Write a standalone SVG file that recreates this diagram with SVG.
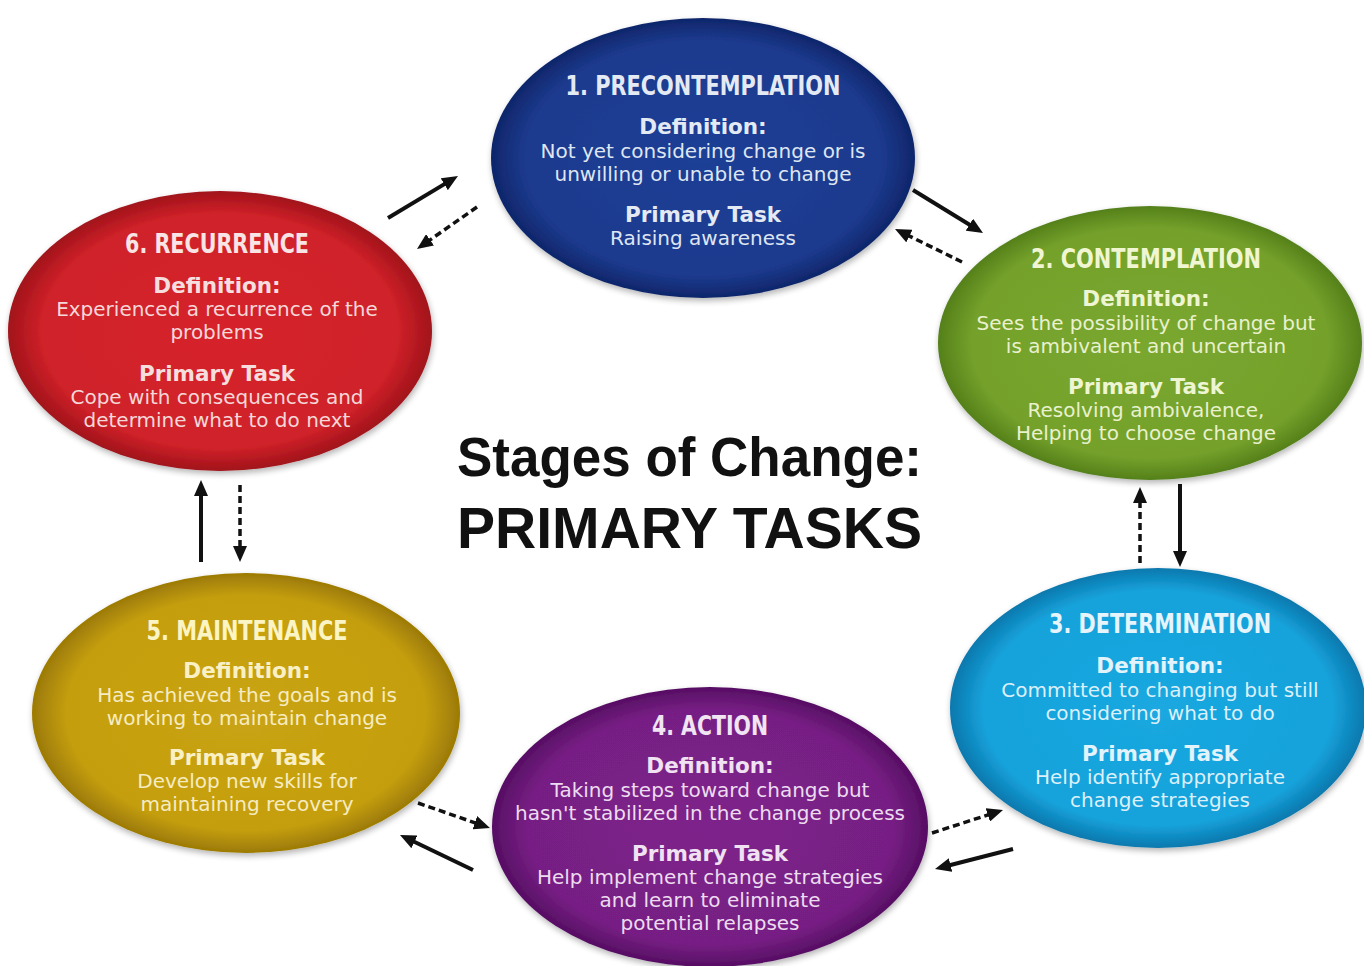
<svg xmlns="http://www.w3.org/2000/svg" width="1364" height="966" viewBox="0 0 1364 966">
  <style>
    .hd { font-family: "Liberation Sans Narrow", "DejaVu Sans Condensed", "Liberation Sans", sans-serif; font-weight: bold; font-size: 26px; text-anchor: middle; }
    .lb { font-family: "DejaVu Sans", Verdana, sans-serif; font-weight: bold; font-size: 21.5px; text-anchor: middle; }
    .tx { font-family: "DejaVu Sans", Verdana, sans-serif; font-size: 20px; text-anchor: middle; }
    .ttl { font-family: "Liberation Sans", Arial, sans-serif; font-weight: bold; fill: #111; }
    .sol { stroke: #111; stroke-width: 4; fill: none; marker-end: url(#head); }
    .dsh { stroke: #111; stroke-width: 3.5; fill: none; stroke-dasharray: 7 4; marker-end: url(#head); }
  </style>
  <defs>
    <marker id="head" markerUnits="userSpaceOnUse" markerWidth="16" markerHeight="14" refX="6" refY="7" orient="auto">
      <path d="M0,0 L16,7 L0,14 z" fill="#111"/>
    </marker>
    <filter id="soft" x="-10%" y="-10%" width="120%" height="125%">
      <feGaussianBlur in="SourceAlpha" stdDeviation="3"/>
      <feOffset dx="1" dy="3" result="b"/>
      <feComponentTransfer><feFuncA type="linear" slope="0.3"/></feComponentTransfer>
      <feMerge><feMergeNode/><feMergeNode in="SourceGraphic"/></feMerge>
    </filter>
    <radialGradient id="gBlue"><stop offset="0" stop-color="#1f3f95"/><stop offset="0.84" stop-color="#1c3a8e"/><stop offset="1" stop-color="#0f266a"/></radialGradient>
    <radialGradient id="gRed"><stop offset="0" stop-color="#d6232b"/><stop offset="0.84" stop-color="#cf2129"/><stop offset="1" stop-color="#a0131a"/></radialGradient>
    <radialGradient id="gGreen"><stop offset="0" stop-color="#7aa72f"/><stop offset="0.84" stop-color="#74a12b"/><stop offset="1" stop-color="#55801a"/></radialGradient>
    <radialGradient id="gCyan"><stop offset="0" stop-color="#1aa8e0"/><stop offset="0.84" stop-color="#16a2db"/><stop offset="1" stop-color="#0a78ad"/></radialGradient>
    <radialGradient id="gGold"><stop offset="0" stop-color="#caa412"/><stop offset="0.84" stop-color="#c49e10"/><stop offset="1" stop-color="#9c7a05"/></radialGradient>
    <radialGradient id="gPurple"><stop offset="0" stop-color="#7d228a"/><stop offset="0.84" stop-color="#771f84"/><stop offset="1" stop-color="#560e63"/></radialGradient>
  </defs>

  <rect width="1364" height="966" fill="#ffffff"/>

  <!-- stage 1 -->
  <g id="precontemplation">
    <ellipse cx="703" cy="158" rx="212" ry="140" fill="url(#gBlue)" filter="url(#soft)"/>
    <text class="hd" x="703" y="95" fill="#e4eaf4" textLength="275" lengthAdjust="spacingAndGlyphs">1. PRECONTEMPLATION</text>
    <text class="lb" x="703" y="134" fill="#e4eaf4">Definition:</text>
    <text class="tx" x="703" y="158" fill="#dfe6f2">Not yet considering change or is</text>
    <text class="tx" x="703" y="181" fill="#dfe6f2">unwilling or unable to change</text>
    <text class="lb" x="703" y="222" fill="#e4eaf4">Primary Task</text>
    <text class="tx" x="703" y="245" fill="#dfe6f2">Raising awareness</text>
  </g>

  <!-- stage 2 -->
  <g id="contemplation">
    <ellipse cx="1150" cy="343" rx="212" ry="137" fill="url(#gGreen)" filter="url(#soft)"/>
    <text class="hd" x="1146" y="268" fill="#f0f6d2" textLength="230" lengthAdjust="spacingAndGlyphs">2. CONTEMPLATION</text>
    <text class="lb" x="1146" y="306" fill="#eef5d2">Definition:</text>
    <text class="tx" x="1146" y="330" fill="#e9f1cf">Sees the possibility of change but</text>
    <text class="tx" x="1146" y="353" fill="#e9f1cf">is ambivalent and uncertain</text>
    <text class="lb" x="1146" y="394" fill="#eef5d2">Primary Task</text>
    <text class="tx" x="1146" y="417" fill="#e9f1cf">Resolving ambivalence,</text>
    <text class="tx" x="1146" y="440" fill="#e9f1cf">Helping to choose change</text>
  </g>

  <!-- stage 3 -->
  <g id="determination">
    <ellipse cx="1158" cy="708" rx="208" ry="140" fill="url(#gCyan)" filter="url(#soft)"/>
    <text class="hd" x="1160" y="633" fill="#e6f4fb" textLength="222" lengthAdjust="spacingAndGlyphs">3. DETERMINATION</text>
    <text class="lb" x="1160" y="673" fill="#e3f3fb">Definition:</text>
    <text class="tx" x="1160" y="697" fill="#dcf0fa">Committed to changing but still</text>
    <text class="tx" x="1160" y="720" fill="#dcf0fa">considering what to do</text>
    <text class="lb" x="1160" y="761" fill="#e3f3fb">Primary Task</text>
    <text class="tx" x="1160" y="784" fill="#dcf0fa">Help identify appropriate</text>
    <text class="tx" x="1160" y="807" fill="#dcf0fa">change strategies</text>
  </g>

  <!-- stage 4 -->
  <g id="action">
    <ellipse cx="710" cy="827" rx="218" ry="140" fill="url(#gPurple)" filter="url(#soft)"/>
    <text class="hd" x="710" y="735" fill="#f1e4f3" textLength="116" lengthAdjust="spacingAndGlyphs">4. ACTION</text>
    <text class="lb" x="710" y="773" fill="#f0e2f2">Definition:</text>
    <text class="tx" x="710" y="797" fill="#eddcf0">Taking steps toward change but</text>
    <text class="tx" x="710" y="820" fill="#eddcf0">hasn't stabilized in the change process</text>
    <text class="lb" x="710" y="861" fill="#f0e2f2">Primary Task</text>
    <text class="tx" x="710" y="884" fill="#eddcf0">Help implement change strategies</text>
    <text class="tx" x="710" y="907" fill="#eddcf0">and learn to eliminate</text>
    <text class="tx" x="710" y="930" fill="#eddcf0">potential relapses</text>
  </g>

  <!-- stage 5 -->
  <g id="maintenance">
    <ellipse cx="246" cy="713" rx="214" ry="140" fill="url(#gGold)" filter="url(#soft)"/>
    <text class="hd" x="247" y="640" fill="#fbf4c4" textLength="201" lengthAdjust="spacingAndGlyphs">5. MAINTENANCE</text>
    <text class="lb" x="247" y="678" fill="#f9f0c6">Definition:</text>
    <text class="tx" x="247" y="702" fill="#f6ecc2">Has achieved the goals and is</text>
    <text class="tx" x="247" y="725" fill="#f6ecc2">working to maintain change</text>
    <text class="lb" x="247" y="765" fill="#f9f0c6">Primary Task</text>
    <text class="tx" x="247" y="788" fill="#f6ecc2">Develop new skills for</text>
    <text class="tx" x="247" y="811" fill="#f6ecc2">maintaining recovery</text>
  </g>

  <!-- stage 6 -->
  <g id="recurrence">
    <ellipse cx="220" cy="331" rx="212" ry="140" fill="url(#gRed)" filter="url(#soft)"/>
    <text class="hd" x="217" y="253" fill="#f8e4e4" textLength="184" lengthAdjust="spacingAndGlyphs">6. RECURRENCE</text>
    <text class="lb" x="217" y="293" fill="#f7dede">Definition:</text>
    <text class="tx" x="217" y="316" fill="#f5d8d8">Experienced a recurrence of the</text>
    <text class="tx" x="217" y="339" fill="#f5d8d8">problems</text>
    <text class="lb" x="217" y="381" fill="#f7dede">Primary Task</text>
    <text class="tx" x="217" y="404" fill="#f5d8d8">Cope with consequences and</text>
    <text class="tx" x="217" y="427" fill="#f5d8d8">determine what to do next</text>
  </g>

  <!-- centre heading -->
  <g id="heading">
    <text class="ttl" x="457" y="476" font-size="55" textLength="465" lengthAdjust="spacingAndGlyphs">Stages of Change:</text>
    <text class="ttl" x="457" y="548" font-size="57" textLength="465" lengthAdjust="spacingAndGlyphs">PRIMARY TASKS</text>
  </g>

  <!-- forward (solid) and relapse (dashed) transitions -->
  <g id="connectors">
    <line class="sol" x1="388" y1="218" x2="449.4" y2="181.1"/>
    <line class="dsh" x1="477" y1="207" x2="425.2" y2="243.3"/>
    <line class="sol" x1="913" y1="190" x2="974.5" y2="227.8"/>
    <line class="dsh" x1="962" y1="262" x2="904" y2="233.4"/>
    <line class="sol" x1="1180" y1="484" x2="1180" y2="557"/>
    <line class="dsh" x1="1140" y1="563" x2="1140" y2="497"/>
    <line class="sol" x1="1013" y1="849" x2="944.7" y2="866.5"/>
    <line class="dsh" x1="932" y1="833" x2="993.5" y2="813.1"/>
    <line class="sol" x1="473" y1="870" x2="409" y2="839.3"/>
    <line class="dsh" x1="418" y1="803" x2="480.5" y2="824.7"/>
    <line class="sol" x1="201" y1="562" x2="201" y2="490"/>
    <line class="dsh" x1="240" y1="485" x2="240" y2="552"/>
  </g>
</svg>
